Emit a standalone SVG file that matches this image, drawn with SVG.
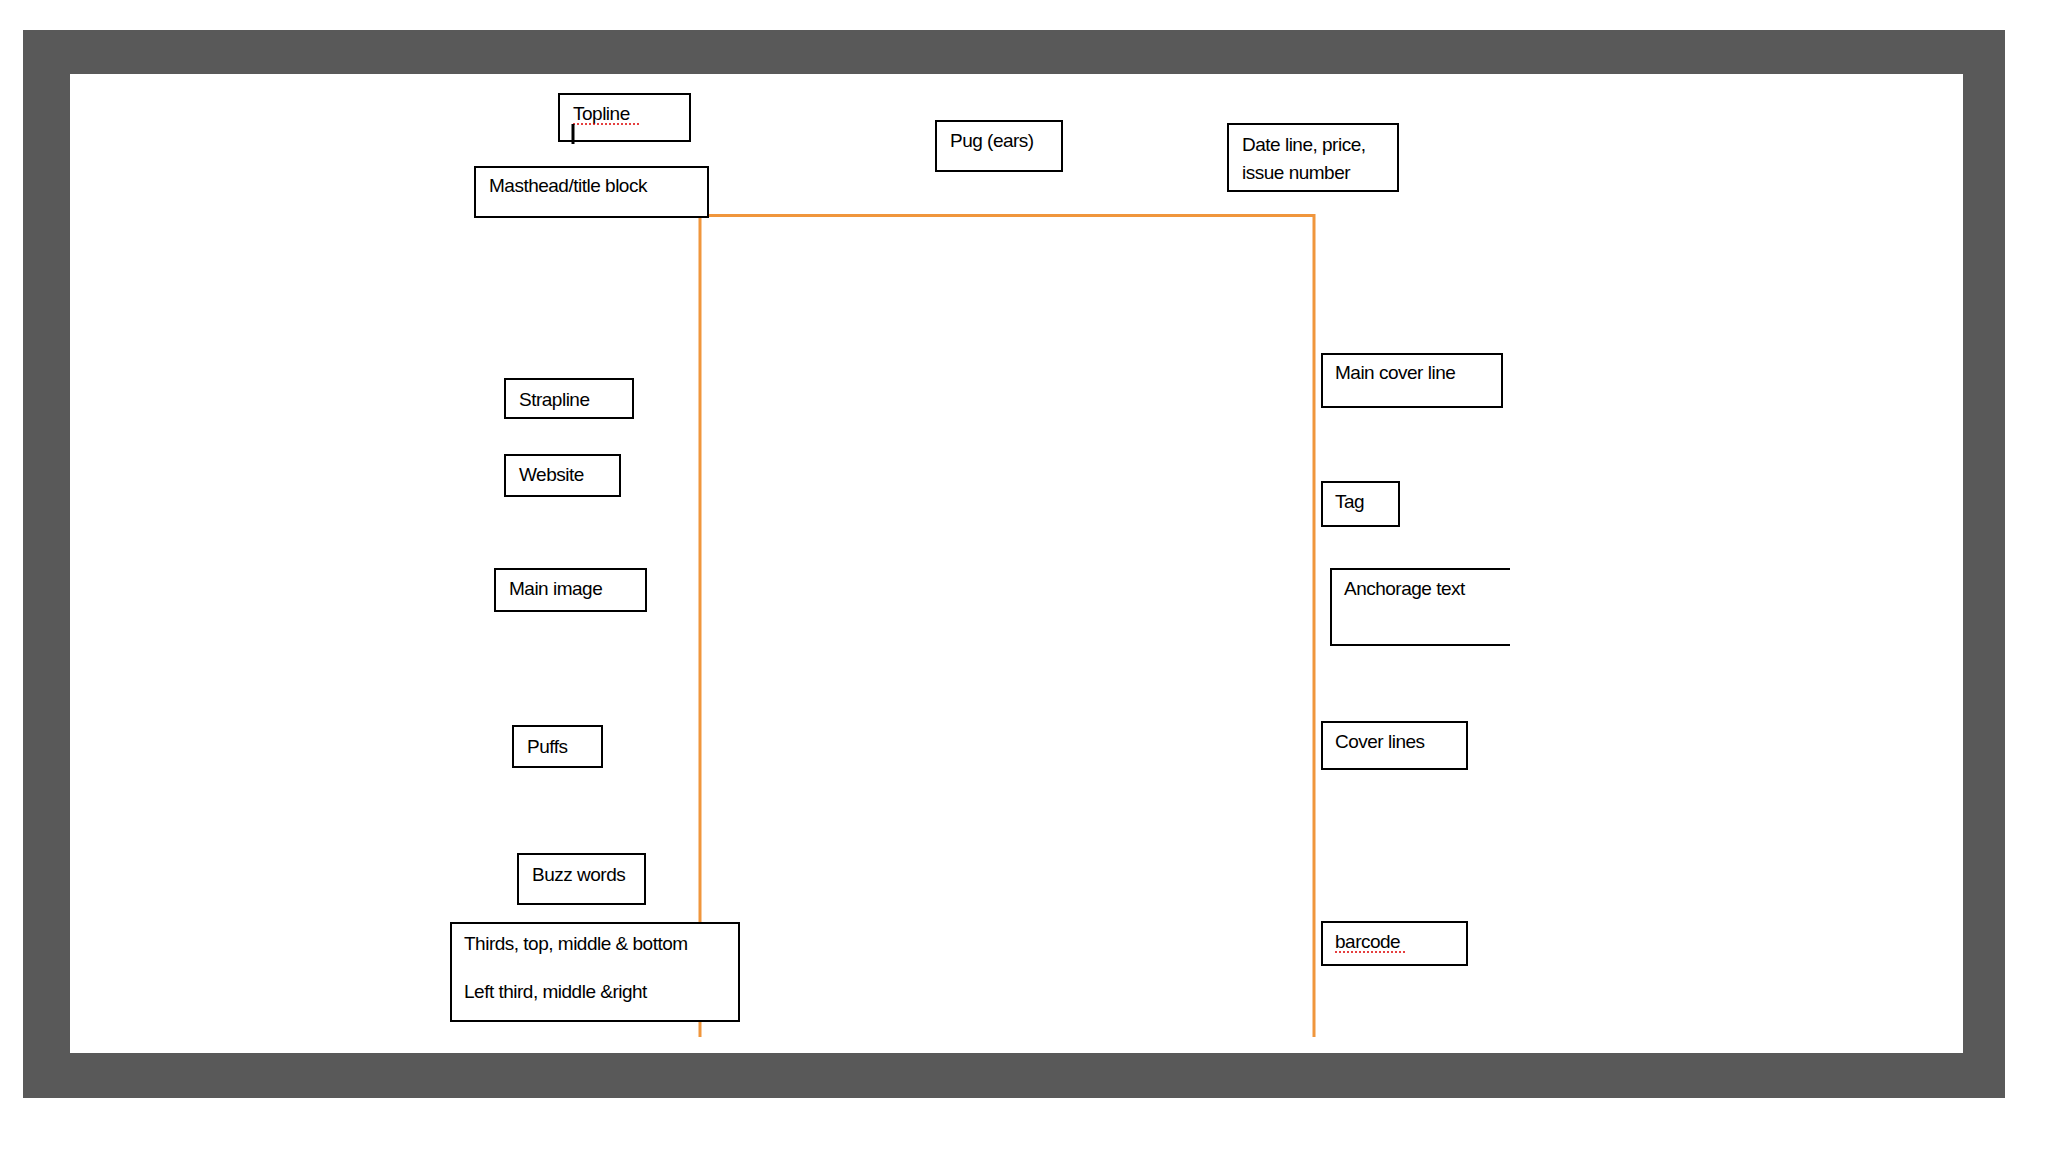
<svg xmlns="http://www.w3.org/2000/svg" width="2048" height="1152" viewBox="0 0 2048 1152">
<style>
.b{fill:#fff;stroke:#000;stroke-width:2}
.t{font-family:"Liberation Sans",Arial,sans-serif;font-size:19px;fill:#000;letter-spacing:-0.5px}
.o{stroke:#F0963C;stroke-width:3;fill:none}
.sq{stroke:#d00;stroke-width:1.5;stroke-dasharray:2 2;fill:none}
</style>
<rect width="2048" height="1152" fill="#fff"/>
<rect x="23" y="30" width="1982" height="1068" fill="#595959"/>
<rect x="70" y="74" width="1893" height="979" fill="#fff"/>
<g id="connectors">
<path class="o" d="M700 1037V215.5H1314V1037"/>
</g>
<g id="topline"><rect class="b" x="559" y="94" width="131" height="47"/><text class="t" x="573" y="120">Topline</text><path class="sq" d="M573 124H640"/><path d="M573 124V144" stroke="#000" stroke-width="3"/></g>
<g id="masthead"><rect class="b" x="475" y="167" width="233" height="50"/><text class="t" x="489" y="192">Masthead/title block</text></g>
<g id="pug"><rect class="b" x="936" y="121" width="126" height="50"/><text class="t" x="950" y="147">Pug (ears)</text></g>
<g id="dateline"><rect class="b" x="1228" y="124" width="170" height="67"/><text class="t" x="1242" y="151">Date line, price,</text><text class="t" x="1242" y="179">issue number</text></g>
<g id="strapline"><rect class="b" x="505" y="379" width="128" height="39"/><text class="t" x="519" y="406">Strapline</text></g>
<g id="website"><rect class="b" x="505" y="455" width="115" height="41"/><text class="t" x="519" y="481">Website</text></g>
<g id="mainimage"><rect class="b" x="495" y="569" width="151" height="42"/><text class="t" x="509" y="595">Main image</text></g>
<g id="puffs"><rect class="b" x="513" y="726" width="89" height="41"/><text class="t" x="527" y="753">Puffs</text></g>
<g id="buzz"><rect class="b" x="518" y="854" width="127" height="50"/><text class="t" x="532" y="881">Buzz words</text></g>
<g id="thirds"><rect class="b" x="451" y="923" width="288" height="98"/><text class="t" x="464" y="950">Thirds, top, middle &amp; bottom</text><text class="t" x="464" y="998">Left third, middle &amp;right</text></g>
<g id="maincover"><rect class="b" x="1322" y="354" width="180" height="53"/><text class="t" x="1335" y="379">Main cover line</text></g>
<g id="tag"><rect class="b" x="1322" y="482" width="77" height="44"/><text class="t" x="1335" y="508">Tag</text></g>
<g id="anchorage"><path d="M1510 569H1331V645H1510" fill="#fff" stroke="#000" stroke-width="2"/><text class="t" x="1344" y="595">Anchorage text</text></g>
<g id="coverlines"><rect class="b" x="1322" y="722" width="145" height="47"/><text class="t" x="1335" y="748">Cover lines</text></g>
<g id="barcode"><rect class="b" x="1322" y="922" width="145" height="43"/><text class="t" x="1335" y="948">barcode</text><path class="sq" d="M1335 952H1407"/></g>
</svg>
